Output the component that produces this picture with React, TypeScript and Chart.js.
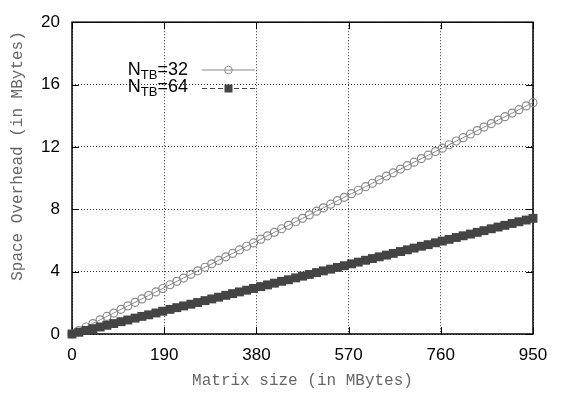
import React, { useEffect, useRef } from 'react';
import { Chart, registerables } from 'chart.js';
Chart.register(...registerables);

const matrixSize = [0, 14, 29, 43, 58, 72, 86, 101, 115, 130, 144, 158, 173, 187, 202, 216, 230, 245, 259, 274, 288, 302, 317, 331, 345, 360, 374, 389, 403, 417, 432, 446, 461, 475, 489, 504, 518, 533, 547, 561, 576, 590, 605, 619, 633, 648, 662, 677, 691, 705, 720, 734, 749, 763, 777, 792, 806, 821, 835, 849, 864, 878, 892, 907, 921, 936, 950];
const overheadTB32 = [0, 0.22, 0.45, 0.67, 0.91, 1.13, 1.34, 1.58, 1.80, 2.03, 2.25, 2.47, 2.70, 2.92, 3.16, 3.38, 3.59, 3.83, 4.05, 4.28, 4.50, 4.72, 4.95, 5.17, 5.39, 5.63, 5.84, 6.08, 6.30, 6.52, 6.75, 6.97, 7.20, 7.42, 7.64, 7.88, 8.09, 8.33, 8.55, 8.77, 9.00, 9.22, 9.45, 9.67, 9.89, 10.13, 10.34, 10.58, 10.80, 11.02, 11.25, 11.47, 11.70, 11.92, 12.14, 12.38, 12.59, 12.83, 13.05, 13.27, 13.50, 13.72, 13.94, 14.17, 14.39, 14.63, 14.84];
const overheadTB64 = [0, 0.11, 0.23, 0.34, 0.45, 0.56, 0.67, 0.79, 0.90, 1.02, 1.13, 1.23, 1.35, 1.46, 1.58, 1.69, 1.80, 1.91, 2.02, 2.14, 2.25, 2.36, 2.48, 2.59, 2.70, 2.81, 2.92, 3.04, 3.15, 3.26, 3.38, 3.48, 3.60, 3.71, 3.82, 3.94, 4.05, 4.16, 4.27, 4.38, 4.50, 4.61, 4.73, 4.84, 4.95, 5.06, 5.17, 5.29, 5.40, 5.51, 5.63, 5.73, 5.85, 5.96, 6.07, 6.19, 6.30, 6.41, 6.52, 6.63, 6.75, 6.86, 6.97, 7.09, 7.20, 7.31, 7.42];
const xTicks = [0, 190, 380, 570, 760, 950];
const yTicks = [0, 4, 8, 12, 16, 20];
const legendValues = ['32', '64'];
const xTitle = 'Matrix size (in MBytes)';
const yTitle = 'Space Overhead (in MBytes)';

const SANS = "'Liberation Sans', Arial, sans-serif";
const MONO = "'Liberation Mono', 'Courier New', monospace";
const C32 = '#8a8a8a';
const C64 = '#444444';

const overlay = {
  id: 'overlay',
  beforeDatasetsDraw(chart: any) {
    const { ctx, chartArea: a, scales } = chart;
    ctx.save();
    ctx.strokeStyle = '#000';
    ctx.lineWidth = 1;
    const T = 7;
    ctx.beginPath();
    xTicks.forEach((v) => {
      const x = Math.round(scales.x.getPixelForValue(v)) + 0.5;
      ctx.moveTo(x, a.bottom); ctx.lineTo(x, a.bottom - T);
      ctx.moveTo(x, a.top); ctx.lineTo(x, a.top + T);
    });
    yTicks.forEach((v) => {
      const y = Math.round(scales.y.getPixelForValue(v)) + 0.5;
      ctx.moveTo(a.left, y); ctx.lineTo(a.left + T, y);
      ctx.moveTo(a.right, y); ctx.lineTo(a.right - T, y);
    });
    ctx.stroke();
    ctx.lineWidth = 1.5;
    ctx.strokeRect(a.left, a.top, a.right - a.left, a.bottom - a.top);
    ctx.restore();
  },
  afterDraw(chart: any) {
    const { ctx, chartArea: a } = chart;
    ctx.save();
    ctx.fillStyle = '#666';
    ctx.font = `16px ${MONO}`;
    ctx.textAlign = 'center';
    ctx.textBaseline = 'middle';
    ctx.fillText(xTitle, (a.left + a.right) / 2, 381);
    ctx.save();
    ctx.translate(18, 156);
    ctx.rotate(-Math.PI / 2);
    ctx.fillText(yTitle, 0, 0);
    ctx.restore();
    const rightEdge = 188;
    const baselines = [75, 91.5];
    const sampleY = [70, 88.5];
    legendValues.forEach((val, i) => {
      ctx.fillStyle = '#000';
      ctx.textBaseline = 'alphabetic';
      ctx.textAlign = 'left';
      ctx.font = `18px ${SANS}`;
      const wN = ctx.measureText('N').width;
      const wEq = ctx.measureText('=' + val).width;
      ctx.font = `13px ${SANS}`;
      const wSub = ctx.measureText('TB').width;
      let x = rightEdge - wN - wSub - wEq;
      ctx.font = `18px ${SANS}`;
      ctx.fillText('N', x, baselines[i]);
      x += wN;
      ctx.font = `13px ${SANS}`;
      ctx.fillText('TB', x, baselines[i] + 4);
      x += wSub;
      ctx.font = `18px ${SANS}`;
      ctx.fillText('=' + val, x, baselines[i]);
      ctx.lineWidth = 1;
      const y = sampleY[i];
      if (i === 0) {
        ctx.strokeStyle = C32;
        ctx.setLineDash([]);
        ctx.beginPath(); ctx.moveTo(202, y); ctx.lineTo(255, y); ctx.stroke();
        ctx.beginPath(); ctx.arc(228.5, y, 3.8, 0, Math.PI * 2); ctx.stroke();
      } else {
        ctx.strokeStyle = C64;
        ctx.setLineDash([5, 3]);
        ctx.beginPath(); ctx.moveTo(202, y); ctx.lineTo(255, y); ctx.stroke();
        ctx.setLineDash([]);
        ctx.fillStyle = C64;
        ctx.fillRect(224.5, y - 4, 8, 8);
      }
    });
    ctx.restore();
  },
};

export default function App() {
  const ref = useRef<HTMLCanvasElement | null>(null);
  useEffect(() => {
    document.body.style.margin = '0';
    const canvas = ref.current!;
    const chart = new Chart(canvas, {
      type: 'line',
      data: {
        datasets: [
          {
            label: 'NTB=32',
            data: matrixSize.map((x, i) => ({ x, y: overheadTB32[i] })),
            borderColor: C32,
            borderWidth: 1,
            pointStyle: 'circle',
            pointRadius: 4,
            pointBorderWidth: 1.2,
            pointBorderColor: C32,
            pointBackgroundColor: 'rgba(0,0,0,0)',
            clip: false,
            order: 2,
          },
          {
            label: 'NTB=64',
            data: matrixSize.map((x, i) => ({ x, y: overheadTB64[i] })),
            borderColor: C64,
            borderWidth: 1,
            borderDash: [5, 3],
            pointStyle: 'rect',
            pointRadius: 6.3,
            pointBorderWidth: 0,
            pointBackgroundColor: C64,
            pointBorderColor: C64,
            clip: false,
            order: 1,
          },
        ],
      },
      options: {
        responsive: false,
        animation: false,
        layout: { padding: { top: 13, right: 40, left: 0, bottom: 0 } },
        plugins: { legend: { display: false }, tooltip: { enabled: false } },
        scales: {
          x: {
            type: 'linear',
            min: 0,
            max: 950,
            afterBuildTicks: (s: any) => { s.ticks = xTicks.map((v) => ({ value: v })); },
            afterFit: (s: any) => { s.height = 60; },
            grid: { color: '#333', lineWidth: 1, drawTicks: false },
            border: { display: false, dash: [1, 2] },
            ticks: { color: '#000', font: { family: SANS, size: 17 }, padding: 11, maxRotation: 0 },
          },
          y: {
            type: 'linear',
            min: 0,
            max: 20,
            afterBuildTicks: (s: any) => { s.ticks = yTicks.map((v) => ({ value: v })); },
            afterFit: (s: any) => { s.width = 72; },
            grid: { color: '#333', lineWidth: 1, drawTicks: false },
            border: { display: false, dash: [1, 2] },
            ticks: { color: '#000', font: { family: SANS, size: 17 }, padding: 12 },
          },
        },
      },
      plugins: [overlay],
    });
    return () => chart.destroy();
  }, []);
  return <canvas ref={ref} width={573} height={394} style={{ display: 'block' }} />;
}
